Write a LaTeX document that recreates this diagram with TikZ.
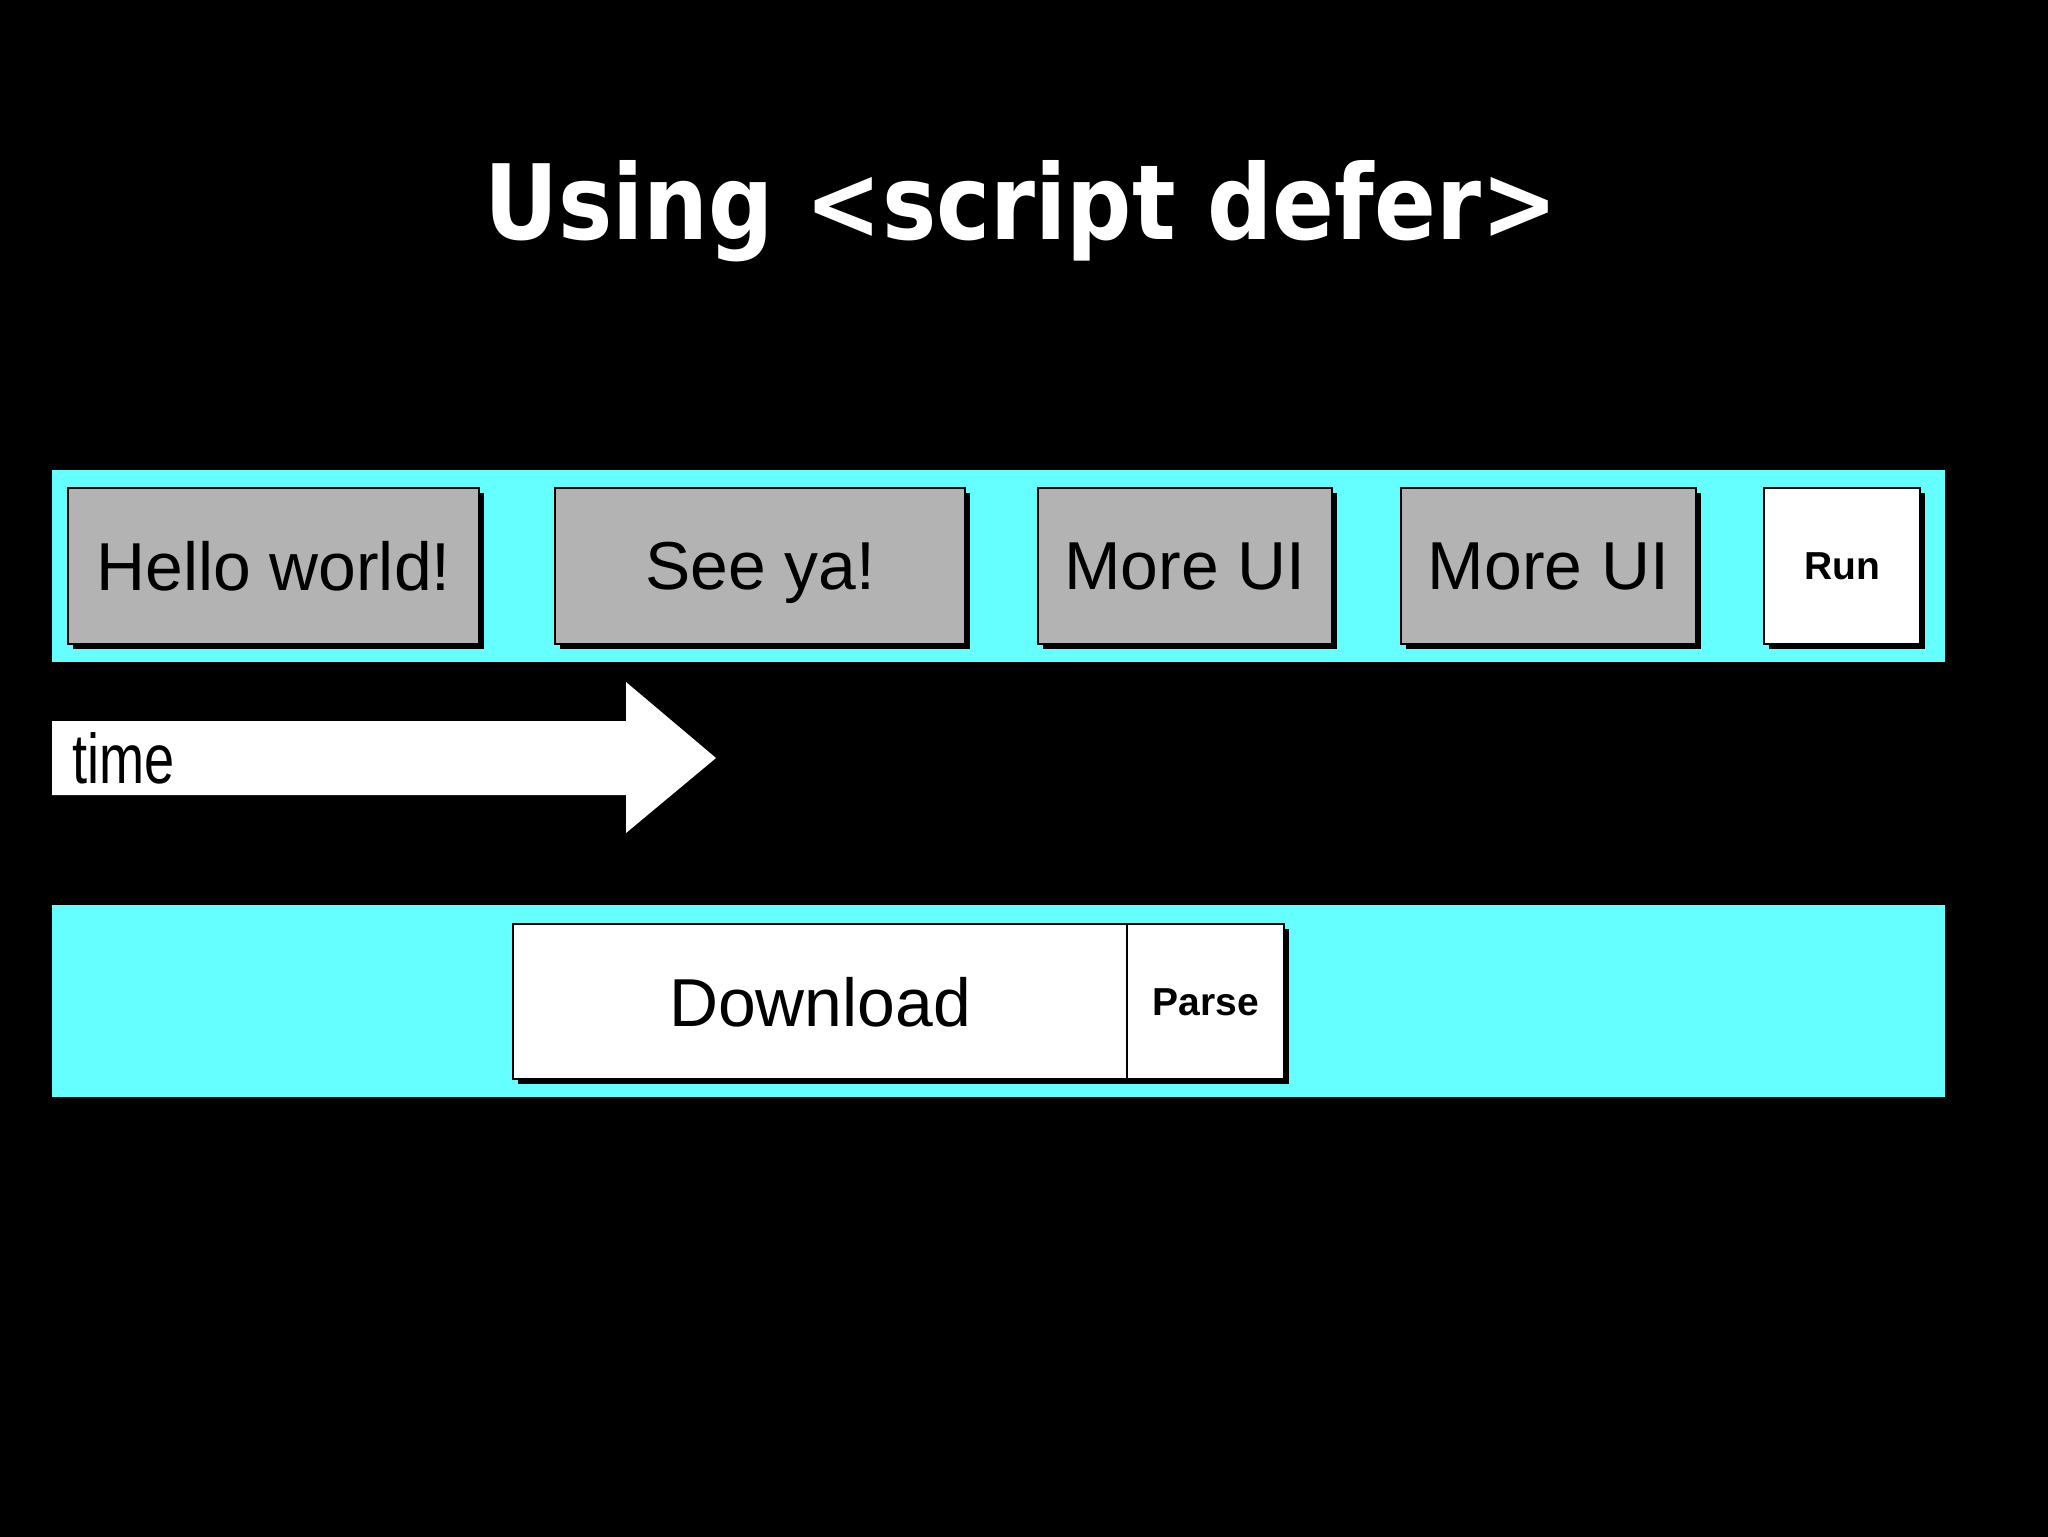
\documentclass[tikz,border=0pt]{standalone}
\usepackage{fontspec}
\setmainfont{Liberation Sans}
\newfontfamily\titlefont{DejaVu Sans}
\usetikzlibrary{shadows}
\definecolor{barcyan}{RGB}{102,255,255}
\definecolor{boxgray}{RGB}{179,179,179}
\tikzset{
  bar/.style={fill=barcyan, draw=none},
  blk/.style={draw=black, line width=0.6pt, inner sep=0pt, anchor=north west,
    text depth=0pt,
    drop shadow={shadow xshift=0.5mm, shadow yshift=-0.5mm, fill=black, opacity=1}},
  uibox/.style={blk, fill=boxgray, font=\fontsize{19.3pt}{22pt}\selectfont},
  runbox/.style={blk, fill=white, font=\fontsize{11.1pt}{13pt}\selectfont\bfseries},
  dlbox/.style={blk, fill=white, font=\fontsize{19.3pt}{22pt}\selectfont},
}
\begin{document}
\begin{tikzpicture}[x=0.1mm,y=-0.1mm]
\useasboundingbox (0,0) rectangle (2048,1536);
\fill[black] (-10,-10) rectangle (2058,1546);
% title
\node[anchor=base, text=white, inner sep=0pt, font=\titlefont\bfseries\fontsize{29.6pt}{34pt}\selectfont] (title) at (1021,239) {\scalebox{0.877}[1]{Using <script defer>}};
% top bar
\fill[bar] (52,470) rectangle (1945,662);
\node[uibox, minimum width=41.1mm, minimum height=15.6mm] (hello) at (67,487) {Hello world!};
\node[uibox, minimum width=41.0mm, minimum height=15.6mm] (seeya) at (554,487) {See ya!};
\node[uibox, minimum width=29.4mm, minimum height=15.6mm] (more1) at (1037,487) {More UI};
\node[uibox, minimum width=29.5mm, minimum height=15.6mm] (more2) at (1400,487) {More UI};
\node[runbox, minimum width=15.6mm, minimum height=15.6mm] (run) at (1763,487) {Run};
% time arrow
\fill[white] (52,721) -- (626,721) -- (626,682) -- (716,758) -- (626,833) -- (626,795) -- (52,795) -- cycle;
\node[anchor=base west, inner sep=0pt, font=\fontsize{20pt}{24pt}\selectfont] (time) at (72,783) {\scalebox{0.77}[1]{time}};
% bottom bar
\fill[bar] (52,905) rectangle (1945,1097);
\node[dlbox, minimum width=61.4mm, minimum height=15.5mm] (download) at (512,923) {Download};
\node[runbox, minimum width=15.7mm, minimum height=15.5mm] (parse) at (1126,923) {Parse};
\end{tikzpicture}
\end{document}
